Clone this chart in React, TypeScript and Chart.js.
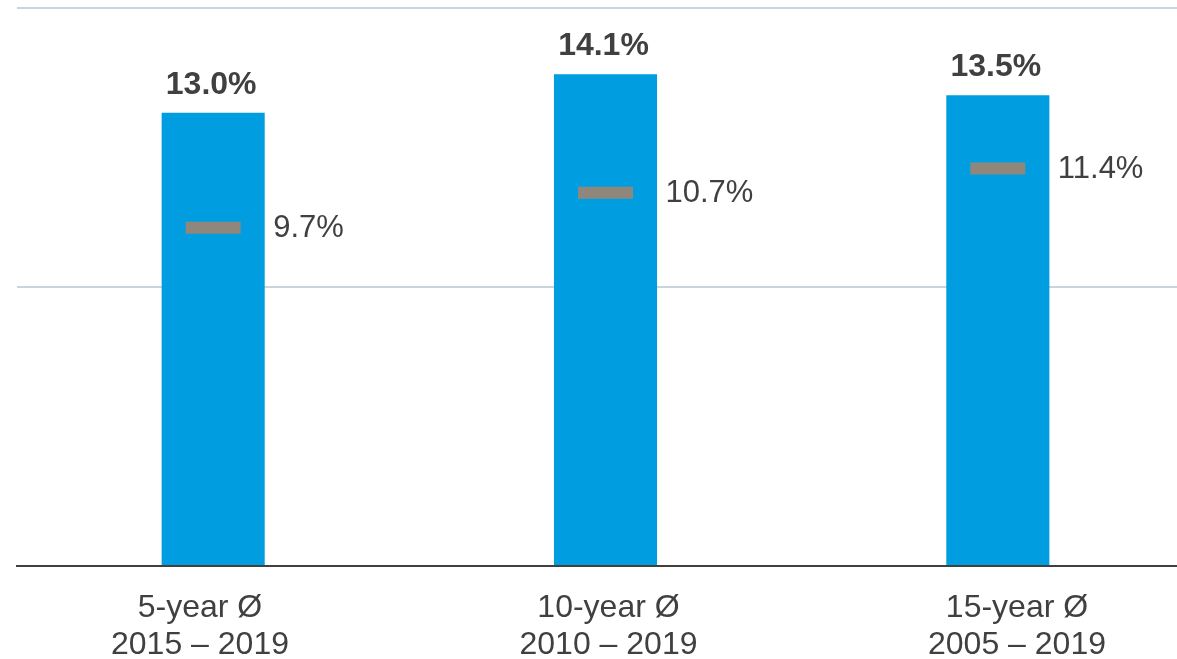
import React, { useEffect, useRef } from "react";
import { Chart, registerables } from "chart.js";

Chart.register(...registerables);

const categories: string[][] = [
  ["5-year Ø", "2015 – 2019"],
  ["10-year Ø", "2010 – 2019"],
  ["15-year Ø", "2005 – 2019"],
];
const barValues: number[] = [13.0, 14.1, 13.5];
const markerValues: number[] = [9.7, 10.7, 11.4];
const yMin = 0;
const yMax = 16;
const yStep = 8;

const FONT = "'Liberation Sans', Arial, sans-serif";
const TEXT = "#404040";

// layout of the category-label axis (labels in the source sit on a slightly wider spread)
const CANVAS_W = 1194;
const AREA_LEFT = 17;
const LABEL_FIRST_PX = 200;
const LABEL_STEP_PX = 408.5;
const labelAxisMin = -(LABEL_FIRST_PX - AREA_LEFT) / LABEL_STEP_PX;
const labelAxisMax = labelAxisMin + (CANVAS_W - AREA_LEFT) / LABEL_STEP_PX;

const labelPlugin = {
  id: "valueLabels",
  afterDatasetsDraw(chart: any) {
    const ctx = chart.ctx;
    ctx.save();
    ctx.fillStyle = TEXT;
    const barMeta = chart.getDatasetMeta(0);
    ctx.font = `bold 32px ${FONT}`;
    ctx.textAlign = "center";
    ctx.textBaseline = "alphabetic";
    barMeta.data.forEach((el: any, i: number) => {
      ctx.fillText(barValues[i].toFixed(1) + "%", el.x - 2, el.y - 19);
    });
    const mMeta = chart.getDatasetMeta(1);
    ctx.font = `31px ${FONT}`;
    ctx.textAlign = "left";
    ctx.textBaseline = "middle";
    mMeta.data.forEach((el: any, i: number) => {
      ctx.fillText(markerValues[i].toFixed(1) + "%", el.x + 60, el.y + 1);
    });
    ctx.restore();
  },
};

export default function App() {
  const ref = useRef<HTMLCanvasElement>(null);
  useEffect(() => {
    document.body.style.margin = "0";
    document.body.style.overflow = "hidden";
    const chart = new Chart(ref.current!, {
      type: "bar",
      data: {
        labels: categories,
        datasets: [
          {
            type: "bar",
            data: barValues,
            backgroundColor: "#009EE0",
            borderWidth: 0,
            barPercentage: 103 / 392,
            categoryPercentage: 1,
            order: 2,
          },
          {
            type: "line",
            data: markerValues,
            showLine: false,
            pointStyle: "line",
            pointRadius: 27.5,
            pointHoverRadius: 27.5,
            borderWidth: 12,
            pointBorderWidth: 12,
            borderColor: "#8f877c",
            pointBorderColor: "#8f877c",
            order: 1,
          } as any,
        ],
      },
      options: {
        animation: false,
        responsive: false,
        maintainAspectRatio: false,
        layout: { autoPadding: false, padding: { left: AREA_LEFT, right: 0, top: 8, bottom: 0 } },
        plugins: {
          legend: { display: false },
          tooltip: { enabled: false },
        },
        scales: {
          x: {
            display: false,
          },
          xLabels: {
            type: "linear",
            position: "bottom",
            offset: false,
            min: labelAxisMin,
            max: labelAxisMax,
            grid: { display: false, drawTicks: false, offset: false },
            border: { display: true, color: "#404040", width: 2 },
            afterBuildTicks: (scale: any) => {
              scale.ticks = categories.map((_, i) => ({ value: i }));
            },
            afterFit: (scale: any) => {
              scale.height = 93;
            },
            ticks: {
              color: TEXT,
              padding: 24,
              font: { family: FONT, size: 32, lineHeight: 37 / 32 },
              maxRotation: 0,
              autoSkip: false,
              callback: (v: any) => categories[Math.round(Number(v))] ?? "",
            },
          } as any,
          y: {
            min: yMin,
            max: yMax,
            ticks: { display: false, stepSize: yStep },
            grid: { color: "#c9d5dc", lineWidth: 2, drawTicks: false },
            border: { display: false },
          },
        },
      },
      plugins: [labelPlugin],
    });
    return () => chart.destroy();
  }, []);
  return (
    <div style={{ position: "fixed", left: 0, top: 0, width: CANVAS_W, height: 659 }}>
      <canvas ref={ref} width={CANVAS_W} height={659} style={{ width: CANVAS_W, height: 659 }} />
    </div>
  );
}
